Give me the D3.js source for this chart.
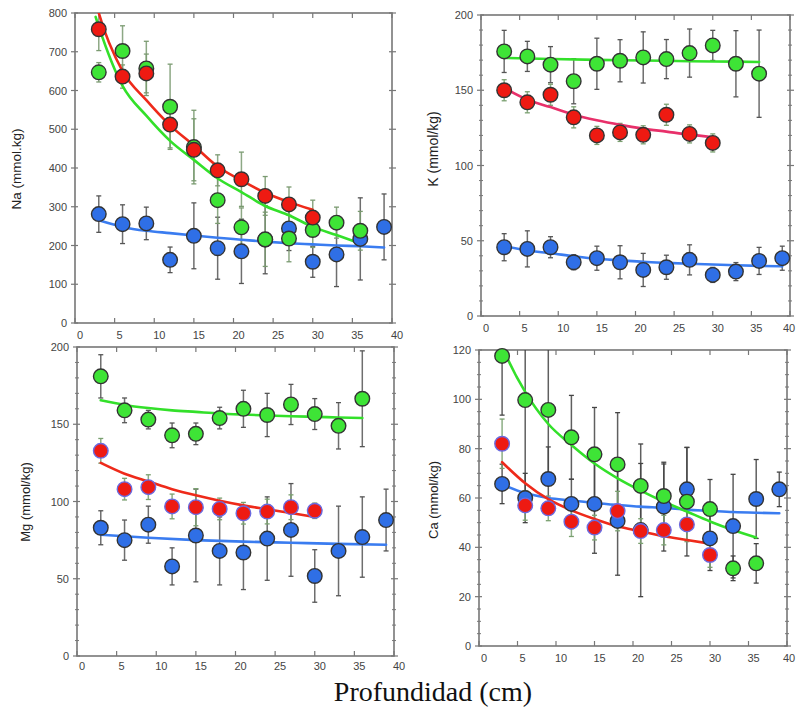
<!DOCTYPE html>
<html><head><meta charset="utf-8">
<script src="https://cdn.jsdelivr.net/npm/d3@7"></script>
<style>body{margin:0;background:#fff}svg{display:block}</style>
</head><body>
<svg id="c" width="798" height="713"></svg>
<script>
// ---------- data ----------
const depth = [3,6,9,12,15,18,21,24,27,30,33,36,39];
const xTicks = [0,5,10,15,20,25,30,35,40];

// Na
const naBlue = [281,255,257,163,225,193,185,215,244,158,177,217,248];
const naBlueErr = [47,50,42,33,85,80,83,88,57,40,83,106,85];
const naGreen = [647,702,657,558,454,317,247,216,218,240,259,238];
const naGreenErr = [25,65,70,110,95,60,50,70,60,45,40,50];
const naRed = [758,636,644,512,447,394,371,328,306,272];
const naRedErr = [55,30,50,60,80,40,70,50,45,45];
const naBlueFit = [[3,265],[6,248],[9,238],[12,232],[15,226],[18,220],[21,215],[24,210],[27,206],[30,203],[33,200],[36,198],[39,195]];
const naGreenFit = [[2.6,790],[3,765],[6,612],[9,535],[12,470],[15,421],[18,373],[21,338],[24,302],[27,278],[30,248],[33,227],[36,205]];
const naRedFit = [[2.6,830],[3,800],[6,650],[9,575],[12,510],[15,458],[18,404],[21,368],[24,336],[27,312],[30,292]];

// K
const kBlue = [45.7,44.6,45.7,35.7,38.4,35.7,30.6,32.4,37.3,27.3,29.5,36.6,38.4];
const kBlueErr = [9,12,7,5,8,11,11,8,10,5,6,9,8];
const kGreen = [175.8,172.5,167,156,167.6,169.6,171.8,170.7,174.7,179.8,167.6,161];
const kGreenErr = [14,10,12,15,17,14,17,13,16,10,22,29];
const kRed = [150,142,147,132,120,122,120.4,133.7,121,115];
const kRedErr = [7,7,7,7,6,6,6,7,6,6];
const kBlueFit = [[3,46.6],[6,43.5],[9,41.7],[12,39.7],[15,38],[18,37],[21,36],[24,35.3],[27,34.7],[30,34.2],[33,33.7],[36,33.3],[39,33]];
const kGreenFit = [[3,171.5],[9,170.8],[15,170.2],[21,169.8],[27,169.3],[33,169],[36,168.8]];
const kRedFit = [[3,151.5],[6,143.7],[9,138.8],[12,133.7],[15,130],[18,127],[21,124.5],[24,122.5],[27,120.5],[30,118.8]];

// Mg
const mgBlue = [83,75,85,58,78,68,67,76,81.6,51.8,68,77,88];
const mgBlueErr = [11,13,12,12,30,22,24,27,30,17,29,26,20];
const mgGreen = [181,159,153,142.8,143.8,154,160,156,162.8,156.6,149,166.5];
const mgGreenErr = [14,8,6,8,7,7,12,14,13,10,15,31];
const mgRed = [132.8,108,109.3,96.8,96.3,95.2,92.4,93.5,96.3,94];
const mgRedErr = [8,7,8,8,12,7,7,8,8,5];
const mgBlueFit = [[3,78.5],[9,76.5],[15,75],[21,74],[27,73.3],[33,72.6],[39,72]];
const mgGreenFit = [[3,165.5],[6,162.5],[9,160.5],[12,159],[15,158],[18,157],[21,156.3],[24,155.7],[27,155.2],[30,154.8],[33,154.4],[36,154]];
const mgRedFit = [[3,125],[6,118],[9,113],[12,108],[15,104],[18,100.5],[21,97.5],[24,95],[27,92.5],[30,90]];

// Ca
const caBlue = [65.7,60,67.7,57.6,57.6,50.7,47,56.5,63.5,43.6,48.6,59.6,63.5];
const caBlueErr = [8,10,13,10,20,22,27,18,17,13,21,16,7];
const caGreen = [117.6,99.7,95.7,84.6,77.7,73.6,64.9,60.8,58.5,55.5,31.5,33.5];
const caGreenErr = [24,45,30,17,19,21,17,13,22,12,5,8];
const caRed = [82,57,55.8,50.4,48,54.7,46.6,47,49.3,36.9];
const caRedErr = [10,6,5,6,5,8,5,6,7,5];
const caBlueFit = [[3,65.5],[6,62],[9,60],[12,59],[15,58],[18,57.2],[21,56.5],[24,56],[27,55.3],[30,54.8],[33,54.3],[36,54],[39,53.8]];
const caGreenFit = [[2.8,123],[3.2,120],[6,103],[9,90],[12,81.5],[15,74],[18,68],[21,63],[24,58.5],[27,54.5],[30,50.5],[33,47],[36,44]];
const caRedFit = [[3,74.5],[6,66],[9,59.5],[12,55],[15,51.5],[18,48.5],[21,46.5],[24,44.5],[27,43],[30,41.5]];

const xTitle = "Profundidad (cm)";

// ---------- styles ----------
const BLUE = "#2f6fe6", GREEN = "#3ee436", RED = "#ee1a12";
const BLUE_LINE = "#3a7cf0", GREEN_LINE = "#33e02a", RED_LINE = "#ee2a1a";

const panels = [
  {id:"na", x0:75, x1:392, y0:13, y1:323, ymax:800, major:100, minor:null, xl:16,
   label:"Na (mmol.kg)", lx:16, ly:169, fs:13.5,
   series:[
     {v:naBlue, e:naBlueErr, fit:naBlueFit, fill:BLUE, stroke:"#333", line:BLUE_LINE, bar:"#555"},
     {v:naGreen, e:naGreenErr, fit:naGreenFit, fill:GREEN, stroke:"#333", line:GREEN_LINE, bar:"#7a9a70"},
     {v:naRed, e:naRedErr, fit:naRedFit, fill:RED, stroke:"#333", line:RED_LINE, bar:"#7a9a70"}]},
  {id:"k", x0:481, x1:790, y0:15, y1:316, ymax:200, major:50, minor:10, xl:16,
   label:"K (mmol/kg)", lx:433, ly:149, fs:14,
   series:[
     {v:kBlue, e:kBlueErr, fit:kBlueFit, fill:BLUE, stroke:"#333", line:BLUE_LINE, bar:"#555"},
     {v:kGreen, e:kGreenErr, fit:kGreenFit, fill:GREEN, stroke:"#333", line:GREEN_LINE, bar:"#555"},
     {v:kRed, e:kRedErr, fit:kRedFit, fill:RED, stroke:"#333", line:"#e8306a", bar:"#7aa070"}]},
  {id:"mg", x0:77, x1:394, y0:347, y1:656, ymax:200, major:50, minor:10, xl:14,
   label:"Mg (mmol/kg)", lx:25, ly:502, fs:13,
   series:[
     {v:mgBlue, e:mgBlueErr, fit:mgBlueFit, fill:BLUE, stroke:"#333", line:BLUE_LINE, bar:"#555"},
     {v:mgGreen, e:mgGreenErr, fit:mgGreenFit, fill:GREEN, stroke:"#333", line:GREEN_LINE, bar:"#555"},
     {v:mgRed, e:mgRedErr, fit:mgRedFit, fill:RED, stroke:"#6a6ae0", line:RED_LINE, bar:"#7aa070"}]},
  {id:"ca", x0:479, x1:787, y0:350, y1:646, ymax:120, major:20, minor:5, xl:16,
   label:"Ca (mmol/kg)", lx:433, ly:500, fs:13,
   series:[
     {v:caBlue, e:caBlueErr, fit:caBlueFit, fill:BLUE, stroke:"#333", line:BLUE_LINE, bar:"#444"},
     {v:caGreen, e:caGreenErr, fit:caGreenFit, fill:GREEN, stroke:"#333", line:GREEN_LINE, bar:"#444"},
     {v:caRed, e:caRedErr, fit:caRedFit, fill:RED, stroke:"#6a6ae0", line:RED_LINE, bar:"#7aa070"}]}
];

const svg = d3.select("#c");
const FRAME = "#777";
const tickFont = "'Liberation Sans', Arial, sans-serif";

panels.forEach(p => {
  const x = d3.scaleLinear().domain([0,40]).range([p.x0,p.x1]);
  const y = d3.scaleLinear().domain([0,p.ymax]).range([p.y1,p.y0]);
  const g = svg.append("g");
  g.append("clipPath").attr("id","clip-"+p.id).append("rect")
    .attr("x",p.x0).attr("y",p.y0).attr("width",p.x1-p.x0).attr("height",p.y1-p.y0);

  // minor ticks
  if (p.minor) {
    const minors = d3.range(0, p.ymax+0.001, p.minor).filter(v => Math.abs(v % p.major) > 1e-6 && Math.abs(v % p.major - p.major) > 1e-6);
    minors.forEach(v => {
      g.append("line").attr("x1",p.x0-2).attr("x2",p.x0+2).attr("y1",y(v)).attr("y2",y(v)).attr("stroke",FRAME).attr("stroke-width",1);
      g.append("line").attr("x1",p.x1-2).attr("x2",p.x1+2).attr("y1",y(v)).attr("y2",y(v)).attr("stroke",FRAME).attr("stroke-width",1);
    });
  }
  // major y ticks and labels
  const majors = d3.range(0, p.ymax+0.001, p.major);
  majors.forEach(v => {
    g.append("line").attr("x1",p.x0-4).attr("x2",p.x0+3).attr("y1",y(v)).attr("y2",y(v)).attr("stroke",FRAME).attr("stroke-width",1.2);
    g.append("line").attr("x1",p.x1-3).attr("x2",p.x1+4).attr("y1",y(v)).attr("y2",y(v)).attr("stroke",FRAME).attr("stroke-width",1.2);
    g.append("text").attr("x",p.x0-8).attr("y",y(v)).attr("text-anchor","end").attr("dominant-baseline","central")
      .attr("font-family",tickFont).attr("font-size",11).attr("fill","#444").text(v);
  });
  // x ticks
  xTicks.forEach(v => {
    g.append("line").attr("x1",x(v)).attr("x2",x(v)).attr("y1",p.y1).attr("y2",p.y1-5).attr("stroke",FRAME).attr("stroke-width",1.2);
    g.append("line").attr("x1",x(v)).attr("x2",x(v)).attr("y1",p.y0).attr("y2",p.y0+5).attr("stroke",FRAME).attr("stroke-width",1.2);
    g.append("text").attr("x",Math.min(x(v)+5, 789)).attr("y",p.y1+p.xl).attr("text-anchor","middle")
      .attr("font-family",tickFont).attr("font-size",11).attr("fill","#444").text(v);
  });
  // frame
  g.append("rect").attr("x",p.x0).attr("y",p.y0).attr("width",p.x1-p.x0).attr("height",p.y1-p.y0)
    .attr("fill","none").attr("stroke",FRAME).attr("stroke-width",1.6);

  // y label
  g.append("text").attr("transform",`translate(${p.lx},${p.ly}) rotate(-90)`)
    .attr("text-anchor","middle").attr("dominant-baseline","central")
    .attr("font-family",tickFont).attr("font-size",p.fs).attr("fill","#222").text(p.label);

  const inner = g.append("g").attr("clip-path",`url(#clip-${p.id})`);
  // error bars
  p.series.forEach(s => {
    s.v.forEach((v,i) => {
      const xi = x(depth[i]);
      const lo = y(v - s.e[i]), hi = y(v + s.e[i]);
      inner.append("line").attr("x1",xi).attr("x2",xi).attr("y1",lo).attr("y2",hi).attr("stroke",s.bar).attr("stroke-width",1.5).attr("opacity",0.85);
      inner.append("line").attr("x1",xi-2.5).attr("x2",xi+2.5).attr("y1",lo).attr("y2",lo).attr("stroke",s.bar).attr("stroke-width",1.3);
      inner.append("line").attr("x1",xi-2.5).attr("x2",xi+2.5).attr("y1",hi).attr("y2",hi).attr("stroke",s.bar).attr("stroke-width",1.3);
    });
  });
  // fit lines
  const line = d3.line().x(d => x(d[0])).y(d => y(d[1])).curve(d3.curveMonotoneX);
  p.series.forEach(s => {
    inner.append("path").attr("d",line(s.fit)).attr("fill","none").attr("stroke",s.line).attr("stroke-width",2.6).attr("stroke-linecap","round");
  });
  // points
  p.series.forEach(s => {
    s.v.forEach((v,i) => {
      g.append("circle").attr("cx",x(depth[i])).attr("cy",y(v)).attr("r",7.3)
        .attr("fill",s.fill).attr("stroke",s.stroke).attr("stroke-width",1.4);
    });
  });
});

svg.append("text").attr("x",433).attr("y",701).attr("text-anchor","middle")
  .attr("font-family","'Liberation Serif','Times New Roman',serif").attr("font-size",28).attr("fill","#111").text(xTitle);
</script>
</body></html>
